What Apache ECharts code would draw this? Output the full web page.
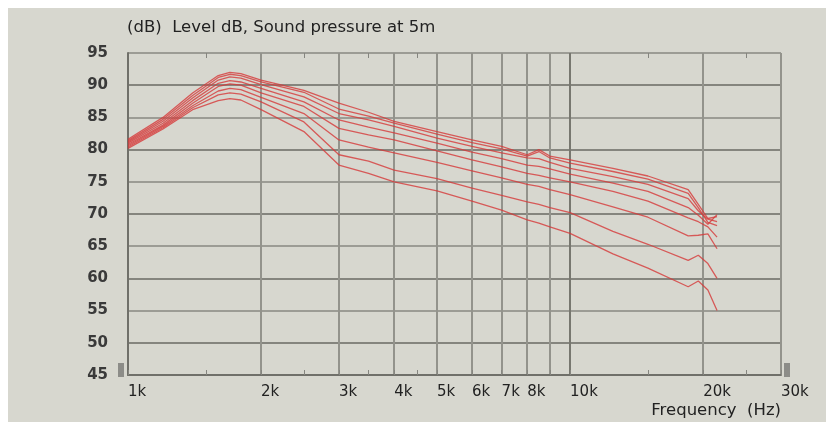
<!DOCTYPE html>
<html>
<head>
<meta charset="utf-8">
<script src="https://cdn.jsdelivr.net/npm/echarts@6/dist/echarts.min.js"></script>
<style>
  html, body { margin: 0; padding: 0; background: #fff; }
  #chart { position: absolute; left: 8px; top: 8px; width: 818px; height: 414px; background: #d7d7cf; }
</style>
</head>
<body>
<div id="chart"></div>
<script>
// frequency points (Hz)
const freqs = [1000, 1200, 1400, 1600, 1700, 1800, 2000, 2500, 3000, 3500, 4000, 5000, 6000, 7000, 8000, 8500, 9000, 10000, 12500, 15000, 18500, 19500, 20500, 21500];

// level curves (dB), top to bottom
const curve1 = [81.6, 85.0, 88.8, 91.5, 92.0, 91.8, 90.8, 89.2, 87.2, 85.8, 84.4, 82.8, 81.5, 80.5, 79.2, 80.0, 79.0, 78.4, 77.1, 75.9, 73.8, 71.5, 69.3, 69.6];
const curve2 = [81.4, 84.7, 88.4, 91.2, 91.7, 91.5, 90.5, 88.9, 86.3, 85.2, 84.1, 82.4, 81.1, 80.1, 79.0, 79.7, 78.7, 77.9, 76.6, 75.4, 73.2, 71.0, 68.7, 68.2];
const curve3 = [81.2, 84.4, 88.0, 90.8, 91.3, 91.1, 90.1, 88.2, 85.6, 84.6, 83.6, 81.8, 80.5, 79.5, 78.7, 78.6, 78.0, 77.1, 75.8, 74.6, 72.4, 70.5, 69.2, 68.8];
const curve4 = [81.0, 84.1, 87.6, 90.3, 90.7, 90.5, 89.5, 87.4, 84.6, 83.5, 82.6, 81.0, 79.6, 78.6, 77.6, 77.4, 77.0, 76.2, 74.8, 73.5, 71.0, 69.8, 68.4, 69.9];
const curve5 = [80.8, 83.8, 87.2, 89.8, 90.2, 90.0, 88.8, 86.7, 83.3, 82.3, 81.5, 79.8, 78.4, 77.3, 76.3, 76.0, 75.6, 75.0, 73.5, 72.0, 69.4, 68.8, 68.0, 66.4];
const curve6 = [80.6, 83.6, 86.8, 89.1, 89.5, 89.3, 88.1, 85.6, 81.5, 80.4, 79.5, 78.0, 76.7, 75.6, 74.6, 74.3, 73.8, 73.0, 71.1, 69.5, 66.6, 66.7, 66.9, 64.6];
const curve7 = [80.4, 83.4, 86.5, 88.5, 88.8, 88.6, 87.4, 84.3, 79.2, 78.2, 76.8, 75.5, 74.0, 72.9, 71.9, 71.5, 71.0, 70.2, 67.3, 65.3, 62.8, 63.6, 62.3, 60.0];
const curve8 = [80.2, 83.2, 86.2, 87.6, 87.9, 87.7, 86.2, 82.8, 77.6, 76.3, 75.0, 73.6, 72.0, 70.6, 69.1, 68.6, 68.0, 67.0, 63.8, 61.6, 58.7, 59.6, 58.2, 55.0];

// axis ticks
const gridFreqs = [1000, 2000, 3000, 4000, 5000, 6000, 7000, 8000, 9000, 10000, 20000, 30000];
const labelFreqs = [1000, 2000, 3000, 4000, 5000, 6000, 7000, 8000, 10000, 20000, 30000];
const minorFreqs = [1500, 2500, 3500, 4500, 15000, 25000];

const curves = [curve1, curve2, curve3, curve4, curve5, curve6, curve7, curve8];

var chartDom = document.getElementById('chart');
var myChart = echarts.init(chartDom);
var option;

const font = 'DejaVu Sans';
//所有刻度（主网格 + 小刻度），小刻度处网格线透明
const tickFreqs = gridFreqs.concat(minorFreqs).sort((a, b) => a - b);
const vColors = tickFreqs.map(f => {
  if (minorFreqs.includes(f)) return 'rgba(0,0,0,0)';
  return f === 10000 ? '#77776f' : '#93938c';
});

option = {
  animation: false,
  title: [
    {
      text: '(dB)  Level dB, Sound pressure at 5m',
      left: 119, top: 11, padding: 0,
      textStyle: { fontFamily: font, fontSize: 16.5, fontWeight: 'normal', color: '#222' }
    },
    {
      text: 'Frequency  (Hz)',
      right: 45, bottom: 3, padding: 0,
      textStyle: { fontFamily: font, fontSize: 16.5, fontWeight: 'normal', color: '#222' }
    }
  ],
  grid: { left: 120, right: 45, top: 45, bottom: 47 },
  xAxis: [
    {
      type: 'log', min: 1000, max: 30000, position: 'bottom',
      axisLine: { show: true, lineStyle: { color: '#70706a', width: 2 } },
      axisTick: { show: true, inside: true, length: 5, customValues: tickFreqs, lineStyle: { color: '#85857f', width: 1 } },
      axisLabel: {
        customValues: labelFreqs,
        formatter: v => (v / 1000) + 'k',
        align: 'left', margin: 10,
        fontFamily: font, fontSize: 15, color: '#222'
      },
      splitLine: { show: true, lineStyle: { color: vColors, width: 2 } }
    },
    {
      type: 'log', min: 1000, max: 30000, position: 'top',
      axisLine: { show: false },
      axisLabel: { show: false },
      splitLine: { show: false },
      axisTick: { show: true, inside: true, length: 5, customValues: minorFreqs, lineStyle: { color: '#85857f', width: 1 } }
    }
  ],
  yAxis: {
    type: 'value', min: 45, max: 95, interval: 5,
    axisLine: { show: true, lineStyle: { color: '#70706a', width: 2 } },
    axisTick: { show: false },
    axisLabel: { margin: 20, fontFamily: font, fontSize: 15, fontWeight: 'bold', color: '#3a3a3a' },
    splitLine: { show: true, lineStyle: { color: ['#9c9c95', '#85857e'], width: 2 } }
  },
  //滚动条小方块
  graphic: [
    { type: 'rect', shape: { x: 110, y: 355, width: 6, height: 14 }, style: { fill: '#8c8c88' } },
    { type: 'rect', shape: { x: 776, y: 355, width: 6, height: 14 }, style: { fill: '#8c8c88' } }
  ],
  series: curves.map((c, i) => ({
    name: 'c' + (i + 1),
    type: 'line',
    xAxisIndex: 0,
    showSymbol: false,
    smooth: false,
    lineStyle: { color: 'rgba(214,58,58,0.8)', width: 1.3 },
    data: freqs.map((f, j) => [f, c[j]])
  }))
};

option && myChart.setOption(option);
</script>
</body>
</html>
